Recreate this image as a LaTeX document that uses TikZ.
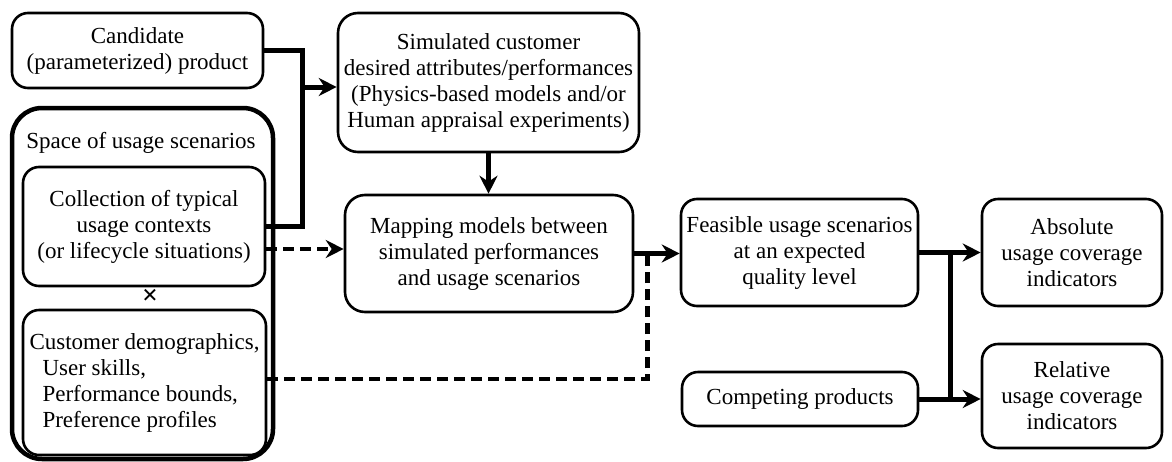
\documentclass[tikz,border=0pt]{standalone}
\usepackage{fontspec}
\setmainfont{Liberation Serif}
\usetikzlibrary{arrows.meta,calc}
\begin{document}
\begin{tikzpicture}[x=1pt,y=-1pt,
  txt/.style={font=\fontsize{23}{26}\selectfont},
  box/.style={draw, line width=2.6pt, rounded corners=16pt, align=center, inner sep=0pt, txt},
  conn/.style={line width=5pt},
  tip/.style={-{Stealth[length=18pt,width=18pt,inset=6pt]}},
  dconn/.style={line width=4.5pt, dash pattern=on 11pt off 6pt}]
\useasboundingbox (0,0) rectangle (1172,461);

% outer container
\node[draw, line width=4.5pt, rounded corners=30pt, minimum width=261pt, minimum height=351pt, inner sep=0pt] (space) at (142.5,283.5) {};
\node[txt] (spacelbl) at (141,143) {Space of usage scenarios};

\node[box, minimum width=251pt, minimum height=75pt] (cand) at (137.5,50.5) {Candidate\\(parameterized) product};
\node[box, rounded corners=20pt, minimum width=301pt, minimum height=139pt] (sim) at (488.5,82.5) {Simulated customer\\desired attributes/performances\\(Physics-based models and/or\\Human appraisal experiments)};
\node[box, minimum width=242pt, minimum height=119pt] (coll) at (144,226.5) {Collection of typical\\usage contexts\\(or lifecycle situations)};
\node[txt] (cross) at (150,297) {\fontsize{28}{28}\selectfont\textbf{×}};
\node[box, align=left, minimum width=243pt, minimum height=145pt] (cust) at (144.5,382.5) {Customer demographics,\\\hspace*{13pt}User skills,\\\hspace*{13pt}Performance bounds,\\\hspace*{13pt}Preference profiles};
\node[box, rounded corners=20pt, minimum width=288pt, minimum height=117pt] (map) at (489,253.5) {Mapping models between\\simulated performances\\and usage scenarios};
\node[box, minimum width=237pt, minimum height=107pt] (feas) at (799.5,252.5) {Feasible usage scenarios\\at an expected\\quality level};
\node[box, minimum width=180pt, minimum height=107pt] (abs) at (1072,252.5) {Absolute\\usage coverage\\indicators};
\node[box, minimum width=236pt, minimum height=54pt] (comp) at (800,399) {Competing products};
\node[box, minimum width=180pt, minimum height=104pt] (rel) at (1072,396) {Relative\\usage coverage\\indicators};

% connectors
\coordinate (j1) at (302,87);
\draw[conn] (cand.east) -| (j1) |- (coll.east);
\draw[conn,tip] (j1) -- (sim.west |- j1);
\draw[conn,tip] (sim.south) -- (sim.south |- map.north);
\coordinate (d1) at ([yshift=-22.5pt]coll.east);
\draw[dconn,tip] (d1) -- (map.west |- d1);
\draw[conn,tip] (map.east) -- (feas.west |- map.east);
\coordinate (j2) at ($(map.east)!0.29!(feas.west |- map.east)$);
\coordinate (d2) at ([yshift=3.5pt]cust.east);
\draw[dconn] (d2) -| (j2);
\draw[conn,tip] (feas.east) -- (abs.west);
\coordinate (j3) at ($(feas.east)!0.5!(abs.west)$);
\draw[conn] (j3) -- (j3 |- comp.east);
\draw[conn,tip] (comp.east) -- (rel.west |- comp.east);
\end{tikzpicture}
\end{document}
